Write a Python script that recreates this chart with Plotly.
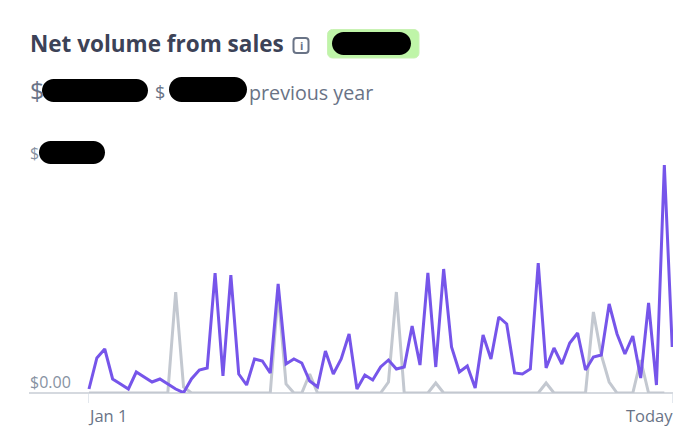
import plotly.graph_objects as go

W, H = 696, 440

days = list(range(75))
current_year = [4, 35, 44, 14, 9, 4, 21, 16, 11, 14, 9, 4, 0.3, 14, 23, 25, 120, 17, 118, 19,
                8, 34, 32, 20, 109, 29, 34, 30, 12, 6, 42, 19, 34, 59, 4, 18, 13, 26, 33, 24,
                26, 67, 28, 120, 26, 124, 46, 21, 27, 5, 58, 34, 76, 69, 20, 19, 24, 130, 25, 45,
                29, 50, 60, 23, 36, 38, 89, 59, 39, 57, 15, 90, 8, 228, 46]
previous_year = [0, 0, 0, 0, 0, 0, 0, 0, 0, 0, 0, 101, 6, 0, 0, 0, 0, 0, 0, 0,
                 0, 0, 0, 0, 100, 9, 0, 0, 19, 0, 0, 0, 0, 0, 0, 0, 0, 0, 11, 101,
                 0, 0, 0, 0, 10, 0, 0, 0, 0, 0, 0, 0, 0, 0, 0, 0, 0, 0, 10, 0,
                 0, 0, 0, 0, 81, 38, 11, 0, 0, 0, 33, 0, 0, 0]
tick_days = [0, 74]
tick_labels = ["Jan 1", "Today"]

TITLE = "#3c4257"
MUTED = "#697386"
FONT = "Open Sans"


def px(x):
    return x / W


def py(y):
    return 1 - y / H


def rrect(x0, y0, x1, y1, r):
    k = r * 0.45
    pts = [
        f"M {px(x0 + r)} {py(y0)}",
        f"L {px(x1 - r)} {py(y0)}",
        f"C {px(x1 - k)} {py(y0)} {px(x1)} {py(y0 + k)} {px(x1)} {py(y0 + r)}",
        f"L {px(x1)} {py(y1 - r)}",
        f"C {px(x1)} {py(y1 - k)} {px(x1 - k)} {py(y1)} {px(x1 - r)} {py(y1)}",
        f"L {px(x0 + r)} {py(y1)}",
        f"C {px(x0 + k)} {py(y1)} {px(x0)} {py(y1 - k)} {px(x0)} {py(y1 - r)}",
        f"L {px(x0)} {py(y0 + r)}",
        f"C {px(x0)} {py(y0 + k)} {px(x0 + k)} {py(y0)} {px(x0 + r)} {py(y0)} Z",
    ]
    return " ".join(pts)


def pill(x0, y0, x1, y1):
    return rrect(x0, y0, x1, y1, (y1 - y0) / 2)


def path_shape(d, fill, line="rgba(0,0,0,0)", width=0):
    return dict(type="path", xref="paper", yref="paper", path=d, fillcolor=fill,
                line=dict(color=line, width=width), layer="above")


def label(x, y, text, size, color=MUTED, anchor="left", bold=False):
    return dict(xref="paper", yref="paper", x=px(x), y=py(y), text=f"<b>{text}</b>" if bold else text,
                showarrow=False, xanchor=anchor, yanchor="middle",
                font=dict(size=size, color=color, family=FONT), borderpad=0, borderwidth=0)


fig = go.Figure()
fig.add_trace(go.Scatter(x=days[:len(previous_year)], y=previous_year, mode="lines", name="Previous year",
                         line=dict(color="#c3c8d0", width=3), hoverinfo="skip"))
fig.add_trace(go.Scatter(x=days, y=current_year, mode="lines", name="Current year",
                         line=dict(color="#7655ea", width=3), hoverinfo="skip"))

shapes = [
    path_shape(rrect(327.5, 29.5, 419, 58, 5), "#bff5a8", "#c9f2b4", 1),
    path_shape(pill(332, 32, 411, 55), "#000000"),
    path_shape(pill(42, 79, 148, 102), "#000000"),
    path_shape(pill(169, 77, 247, 102), "#000000"),
    path_shape(pill(39, 141, 105, 164), "#000000"),
    path_shape(rrect(293.5, 38, 308.5, 53, 3), "rgba(0,0,0,0)", MUTED, 2),
]

annotations = [
    label(29.5, 44, "Net volume from sales", 22.5, TITLE, bold=True),
    label(301, 45.5, "i", 11, MUTED, anchor="center", bold=True),
    label(30, 90, "$", 25),
    label(155, 92, "$", 18, MUTED),
    label(249, 92, "previous year", 19.7),
    label(30, 153, "$", 16, "#8792a2"),
    label(30, 381.5, "$0.00", 16, "#8792a2"),
    dict(xref="x", yref="paper", x=tick_days[0], y=py(415), text=tick_labels[0], showarrow=False, xshift=-3,
         xanchor="left", yanchor="middle", font=dict(size=16.5, color=MUTED, family=FONT)),
    dict(xref="x", yref="paper", x=tick_days[1], y=py(415), text=tick_labels[1], showarrow=False, xshift=3,
         xanchor="right", yanchor="middle", font=dict(size=16.5, color=MUTED, family=FONT)),
]

fig.update_layout(
    width=W, height=H, margin=dict(l=0, r=0, t=0, b=0),
    paper_bgcolor="white", plot_bgcolor="white", showlegend=False,
    shapes=shapes, annotations=annotations,
    xaxis=dict(domain=[px(29), px(673)], range=[-7.61, 74.1], tickmode="array", tickvals=tick_days,
               showticklabels=False, ticks="outside", ticklen=9, tickcolor="#e3e8ee", tickwidth=1,
               showgrid=False, zeroline=False, showline=False),
    yaxis=dict(domain=[py(393), py(153)], range=[0, 240], showticklabels=False, ticks="",
               showgrid=False, zeroline=True, zerolinecolor="#d5d9df", zerolinewidth=1.5, showline=False),
)
for tr in fig.data:
    tr.update(cliponaxis=False)

fig.write_html("out.html", config=dict(displayModeBar=False),
               post_script="document.body.style.margin='0';document.body.style.overflow='hidden';")
